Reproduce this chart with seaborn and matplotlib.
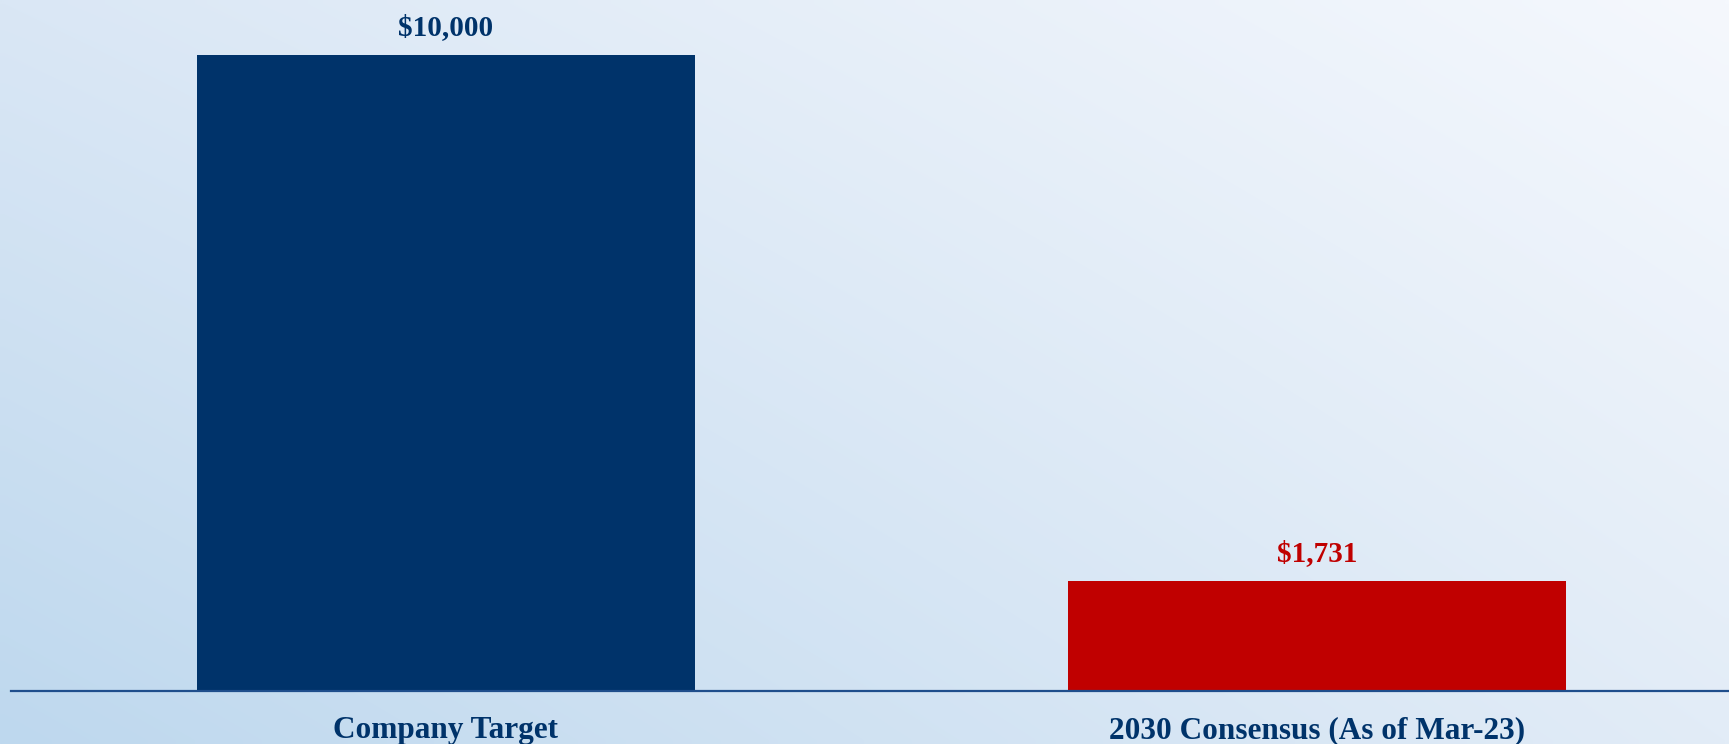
import numpy as np
import pandas as pd
import matplotlib
matplotlib.use("Agg")
import matplotlib.pyplot as plt
import seaborn as sns

categories = ["Company Target", "2030 Consensus (As of Mar-23)"]
values = [10000, 1731]
bar_colors = ["#00336A", "#C00000"]
label_colors = ["#00336A", "#C00000"]

sns.set_theme(style="white")
plt.rcParams['font.family'] = ['Liberation Serif', 'DejaVu Serif']

W, H = 1729, 744
fig = plt.figure(figsize=(W / 100, H / 100), dpi=100)

# background diagonal gradient
bg = fig.add_axes([0, 0, 1, 1], zorder=0)
xs = np.linspace(0, 1, 200)
ys = np.linspace(0, 1, 100)
X, Y = np.meshgrid(xs, ys)
TL = np.array([218, 231, 245]) / 255
TR = np.array([245, 248, 253]) / 255
BL = np.array([190, 216, 238]) / 255
BR = np.array([226, 236, 247]) / 255
img = (TL[None, None] * ((1 - X) * (1 - Y))[..., None] + TR[None, None] * (X * (1 - Y))[..., None]
       + BL[None, None] * ((1 - X) * Y)[..., None] + BR[None, None] * (X * Y)[..., None])
bg.imshow(img, aspect="auto", extent=[0, 1, 1, 0], interpolation="bilinear")
bg.axis("off")

ax = fig.add_axes([11 / W, (H - 691) / H, 1 - 11 / W, 691 / H], zorder=1)
ax.patch.set_alpha(0)
df = pd.DataFrame({"category": categories, "value": values})
sns.barplot(data=df, x="category", y="value", hue="category", palette=bar_colors,
            width=0.572, legend=False, ax=ax, saturation=1, linewidth=0, edgecolor="none")

ax.set_xlim(-0.499, 1.473)
ax.set_ylim(0, 10865)
for s in ["top", "right", "left"]:
    ax.spines[s].set_visible(False)
ax.spines["bottom"].set_color("#1F4E8C")
ax.spines["bottom"].set_linewidth(1.6)
ax.set_yticks([])
ax.set_xlabel("")
ax.set_ylabel("")
ax.tick_params(axis="x", length=0, pad=18)
for lbl in ax.get_xticklabels():
    lbl.set_fontsize(22.5)
    lbl.set_fontweight("bold")
    lbl.set_color("#00336A")

for bar, v, c in zip(ax.patches, values, label_colors):
    ax.annotate(f"${v:,.0f}", xy=(bar.get_x() + bar.get_width() / 2, bar.get_height()),
                xytext=(0, 10), textcoords="offset points", ha="center", va="bottom",
                fontsize=21, fontweight="bold", color=c)

fig.savefig("out.png", dpi=100)
